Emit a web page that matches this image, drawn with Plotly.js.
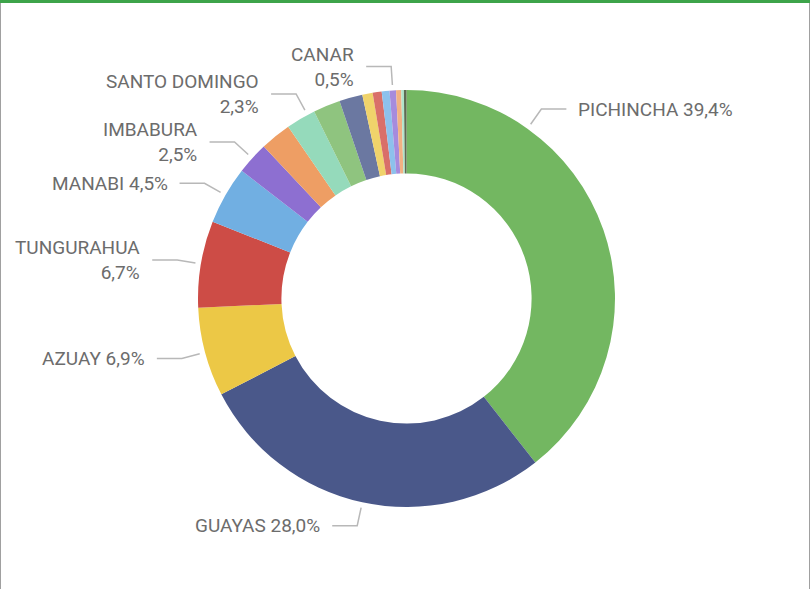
<!DOCTYPE html>
<html><head><meta charset="utf-8">
<script src="https://cdn.plot.ly/plotly-3.0.1.min.js"></script>
<style>
body{margin:0;background:#fff;}
#chart{position:absolute;left:0;top:0;width:810px;height:589px;}
.b{position:absolute;pointer-events:none;}
</style>
</head><body>
<div id="chart"></div>
<div class="b" style="left:0;top:0;width:1px;height:589px;background:#a0a0a0"></div>
<div class="b" style="left:809px;top:0;width:1px;height:589px;background:#a0a0a0"></div>
<div class="b" style="left:0;top:0;width:810px;height:3px;background:#3DA44A"></div>
<script>
// ---- data ----
const provinces = ["PICHINCHA","GUAYAS","AZUAY","TUNGURAHUA","MANABI","IMBABURA","EL ORO","SANTO DOMINGO","LOJA","CHIMBORAZO","COTOPAXI","ESMERALDAS","LOS RIOS","CANAR","SANTA ELENA","SUCUMBIOS","NAPO"];
const shares = [39.4, 28.0, 6.9, 6.7, 4.5, 2.5, 2.4, 2.3, 2.1, 1.8, 0.8, 0.7, 0.6, 0.5, 0.4, 0.2, 0.2];
const labeledProvinces = ["PICHINCHA","GUAYAS","AZUAY","TUNGURAHUA","MANABI","IMBABURA","SANTO DOMINGO","CANAR"];
const wrappedLabels = ["TUNGURAHUA","IMBABURA","SANTO DOMINGO","CANAR"];
const sliceColors = ["#73B761","#4A588A","#ECC846","#CD4C46","#71AFE2","#8D6FD1","#EE9E64","#95DABB",
                     "#8FC47F","#6B78A1","#F0D36B","#D96F69","#8DC1EC","#A68BDD","#F2B183","#B0E4CB","#5E6B52"];

// ---- layout constants ----
const W = 810, H = 589;
const cx = 406.5, cy = 298.5, R = 208.5;
const startR = R + 5.5, elbowR = R + 24, leg = 25, gap = 10;
const anchorFrac = {"PICHINCHA": 0.25, "SANTO DOMINGO": 0.75};

const px = x => x / W;
const py = y => 1 - y / H;

const total = shares.reduce((a, b) => a + b, 0);
const shapes = [], annotations = [];
let cum = 0;
provinces.forEach((name, i) => {
  const v = shares[i];
  if (labeledProvinces.includes(name)) {
    const f = (anchorFrac[name] !== undefined) ? anchorFrac[name] : 0.5;
    const ang = (cum + v * f) / total * 2 * Math.PI;
    const s = Math.sin(ang), c = Math.cos(ang);
    const x0 = cx + startR * s, y0 = cy - startR * c;
    const x1 = cx + elbowR * s, y1 = cy - elbowR * c;
    const right = s > 0;
    const x2 = right ? x1 + leg : x1 - leg;
    shapes.push({
      type: 'path', xref: 'paper', yref: 'paper',
      path: `M ${px(x0)},${py(y0)} L ${px(x1)},${py(y1)} L ${px(x2)},${py(y1)}`,
      line: {color: '#b8b8b8', width: 1.5}
    });
    const val = v.toFixed(1).replace('.', ',') + '%';
    const txt = wrappedLabels.includes(name) ? name + '<br>' + val : name + ' ' + val;
    annotations.push({
      xref: 'paper', yref: 'paper',
      x: px(right ? x2 + gap : x2 - gap), y: py(y1),
      xanchor: right ? 'left' : 'right', yanchor: 'middle',
      align: right ? 'left' : 'right',
      text: txt, showarrow: false,
      font: {family: 'Roboto, "Noto Sans", sans-serif', size: 19, color: '#6c6c6c'}
    });
  }
  cum += v;
});

const trace = {
  type: 'pie',
  labels: provinces,
  values: shares,
  sort: false,
  direction: 'clockwise',
  rotation: 0,
  hole: 0.6,
  textinfo: 'none',
  hoverinfo: 'none',
  marker: {colors: sliceColors, line: {width: 0}},
  domain: {x: [px(cx - R), px(cx + R)], y: [py(cy + R), py(cy - R)]},
  showlegend: false
};

Plotly.newPlot('chart', [trace], {
  width: W, height: H,
  margin: {l: 0, r: 0, t: 0, b: 0},
  paper_bgcolor: '#ffffff',
  showlegend: false,
  shapes: shapes,
  annotations: annotations
}, {displayModeBar: false, staticPlot: true});
</script>
</body></html>
